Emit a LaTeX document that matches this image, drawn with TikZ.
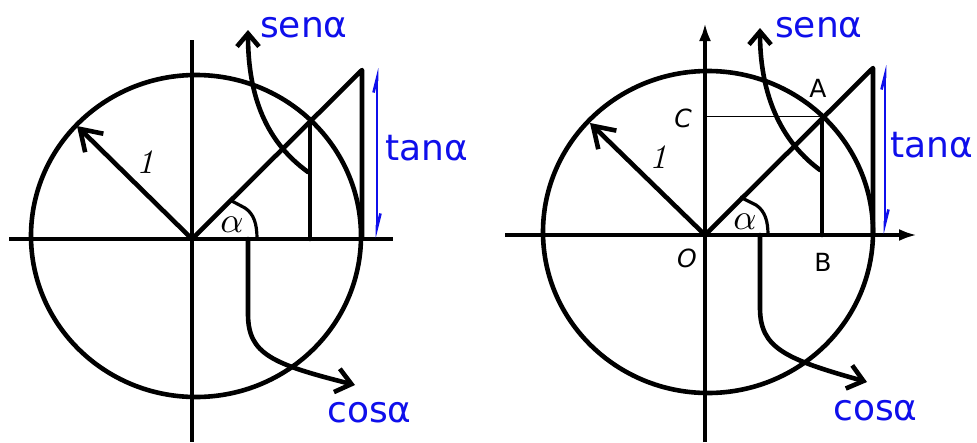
\documentclass[tikz,border=0pt]{standalone}
\usepackage{fontspec}
\newfontfamily\lblfont{DejaVu Sans}
\usetikzlibrary{arrows.meta}
\definecolor{lblblue}{RGB}{15,15,235}
\begin{document}
\begin{tikzpicture}[x=1pt,y=-1pt,
  axis/.style={line width=4.6pt},
  ink/.style={line width=4.6pt, line cap=round, line join=round},
  thinline/.style={line width=1pt},
  anglearc/.style={line width=3.2pt, line join=round},
  radarrow/.style={-{Straight Barb[length=20pt,width=26pt]}},
  sinarrow/.style={-{Straight Barb[length=13pt,width=22pt]}},
  cosarrow/.style={-{Straight Barb[length=15pt,width=24pt]}},
  axisarrow/.style={-{Latex[length=18pt,width=12pt]}},
  tanarrow/.style={line width=2.6pt, draw=lblblue, {Straight Barb[length=14pt,width=7pt,harpoon]}-{Straight Barb[length=14pt,width=7pt,harpoon]}},
  bluelbl/.style={text=lblblue, font=\lblfont\fontsize{36}{36}\selectfont, inner sep=0pt, anchor=base west},
  ptlbl/.style={font=\lblfont\fontsize{25}{25}\selectfont, inner sep=0pt},
  mathlbl/.style={inner sep=0pt, scale=3.6}]
\useasboundingbox (0,0) rectangle (977,442);
\fill[white] (0,0) rectangle (977,442);
% ---------- left figure ----------
\begin{scope}[shift={(192,239)}]
  \coordinate (lO) at (0,0);
  \coordinate (lA) at (118,-119);
  \coordinate (lB) at (118,0);
  \coordinate (lT) at (170,-169);
  \coordinate (lTB) at (170,0);
  \coordinate (lR) at (-115,-113);
  \draw[axis] (-183,0) -- (201,0);
  \draw[axis] (0,-199) -- (0,203);
  \draw[ink] (4,-3) ellipse [x radius=165pt, y radius=161pt];
  \draw[ink] (lO) -- (lT) -- (lTB);
  \draw[ink] (lA) -- (lB);
  \draw[ink, radarrow] (lO) -- (lR);
  \draw[anglearc] (38,-39) -- (53,-31) .. controls (62,-25) and (65,-15) .. (65,0);
  \draw[ink, sinarrow] (116,-67) .. controls (70,-100) and (56,-150) .. (56,-209);
  \draw[ink, cosarrow] (56,0) -- (56,75) .. controls (56,115) and (80,125) .. (163,146);
  \draw[tanarrow] (185,-171) -- (185,-1);
  \node[mathlbl] (lalpha) at (40,-14) {$\alpha$};
  \node[mathlbl, scale=0.95] (lone) at (-47,-77) {\textit{1}};
\end{scope}
\node[bluelbl] (lsen) at (260,37) {senα};
\node[bluelbl] (ltan) at (385,160) {tanα};
\node[bluelbl] (lcos) at (327,422) {cosα};
% ---------- right figure ----------
\begin{scope}[shift={(705,235)}]
  \coordinate (rO) at (0,0);
  \coordinate (rA) at (117,-119);
  \coordinate (rB) at (117,0);
  \coordinate (rC) at (0,-119);
  \coordinate (rT) at (168,-167);
  \coordinate (rTB) at (168,0);
  \coordinate (rR) at (-115,-112);
  \draw[axis, axisarrow] (-200,0) -- (212,0);
  \draw[axis, axisarrow] (0,207) -- (0,-212);
  \draw[ink] (3,-3) ellipse [x radius=165pt, y radius=161pt];
  \draw[thinline] (rC) -- (rA);
  \draw[ink] (rO) -- (rT) -- (rTB);
  \draw[ink] (rA) -- (rB);
  \draw[ink, radarrow] (rO) -- (rR);
  \draw[anglearc] (35,-38) -- (51,-30) .. controls (60,-24) and (63,-14) .. (63,0);
  \draw[ink, sinarrow] (115,-65) .. controls (70,-98) and (55,-150) .. (55,-207);
  \draw[ink, cosarrow] (55,0) -- (55,73) .. controls (55,113) and (80,124) .. (162,147);
  \draw[tanarrow] (180,-170) -- (180,-1);
  \node[mathlbl] (ralpha) at (40,-13) {$\alpha$};
  \node[mathlbl, scale=0.95] (rone) at (-47,-78) {\textit{1}};
\end{scope}
\node[bluelbl] (rsen) at (775,37) {senα};
\node[bluelbl] (rtan) at (890,157) {tanα};
\node[bluelbl] (rcos) at (833,420) {cosα};
\node[ptlbl] (lblA) at (818,88) {A};
\node[ptlbl] (lblB) at (823,262) {B};
\node[ptlbl] (lblC) at (683,118) {\itshape C};
\node[ptlbl] (lblO) at (687,258) {\itshape O};
\end{tikzpicture}
\end{document}
